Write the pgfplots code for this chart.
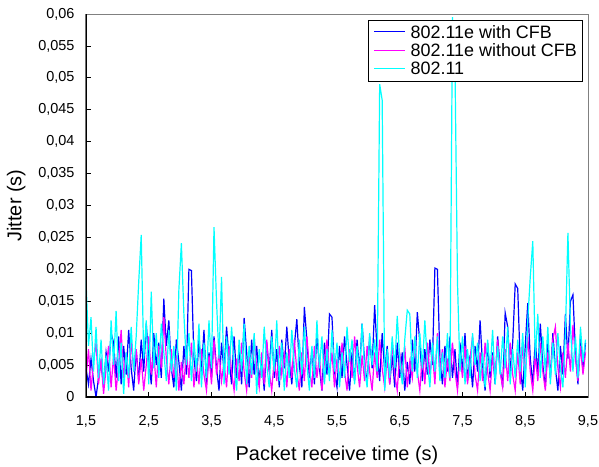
\documentclass[border=0pt]{standalone}
\usepackage{fontspec}
\setmainfont{Liberation Sans}
\usepackage{pgfplots}
\usepackage{pgfplotstable}
\pgfplotsset{compat=1.18}
\pgfplotstableread{
t b m c
1.50 0.0045 0.0030 0.0183
1.54 0.0020 0.0075 0.0080
1.58 0.0060 0.0010 0.0125
1.62 0.0025 0.0055 0.0040
1.66 0.0000 0.0085 0.0110
1.70 0.0030 0.0020 0.0030
1.74 0.0055 0.0060 0.0090
1.78 0.0015 0.0005 0.0020
1.82 0.0070 0.0045 0.0065
1.86 0.0040 0.0080 0.0010
1.90 0.0100 0.0015 0.0120
1.94 0.0085 0.0065 0.0050
1.98 0.0030 0.0010 0.0135
2.02 0.0095 0.0050 0.0025
2.06 0.0020 0.0105 0.0085
2.10 0.0080 0.0030 0.0005
2.14 0.0035 0.0070 0.0070
2.18 0.0105 0.0015 0.0030
2.22 0.0045 0.0090 0.0110
2.26 0.0010 0.0040 0.0040
2.30 0.0075 0.0075 0.0095
2.34 0.0025 0.0020 0.0180
2.38 0.0090 0.0060 0.0254
2.42 0.0040 0.0010 0.0060
2.46 0.0115 0.0050 0.0120
2.50 0.0060 0.0095 0.0020
2.54 0.0020 0.0035 0.0165
2.58 0.0100 0.0070 0.0045
2.62 0.0050 0.0015 0.0100
2.66 0.0085 0.0080 0.0030
2.70 0.0030 0.0045 0.0115
2.74 0.0154 0.0125 0.0070
2.78 0.0080 0.0060 0.0025
2.82 0.0120 0.0020 0.0105
2.86 0.0045 0.0075 0.0040
2.90 0.0015 0.0030 0.0080
2.94 0.0090 0.0065 0.0010
2.98 0.0055 0.0010 0.0168
3.02 0.0010 0.0055 0.0241
3.06 0.0080 0.0020 0.0130
3.10 0.0035 0.0070 0.0050
3.14 0.0200 0.0030 0.0100
3.18 0.0198 0.0085 0.0025
3.22 0.0060 0.0015 0.0090
3.26 0.0025 0.0060 0.0040
3.30 0.0090 0.0020 0.0115
3.34 0.0040 0.0075 0.0015
3.38 0.0105 0.0035 0.0085
3.42 0.0020 0.0010 0.0030
3.46 0.0070 0.0065 0.0120
3.50 0.0030 0.0020 0.0045
3.54 0.0095 0.0090 0.0266
3.58 0.0045 0.0035 0.0150
3.62 0.0010 0.0070 0.0060
3.66 0.0085 0.0025 0.0188
3.70 0.0040 0.0055 0.0020
3.74 0.0110 0.0015 0.0095
3.78 0.0060 0.0080 0.0035
3.82 0.0020 0.0040 0.0110
3.86 0.0095 0.0010 0.0050
3.90 0.0030 0.0060 0.0010
3.94 0.0075 0.0025 0.0090
3.98 0.0020 0.0085 0.0040
4.02 0.0124 0.0040 0.0115
4.06 0.0070 0.0010 0.0020
4.10 0.0015 0.0065 0.0080
4.14 0.0090 0.0030 0.0035
4.18 0.0035 0.0095 0.0100
4.22 0.0080 0.0045 0.0005
4.26 0.0025 0.0015 0.0075
4.30 0.0060 0.0070 0.0030
4.34 0.0010 0.0020 0.0110
4.38 0.0085 0.0090 0.0050
4.42 0.0040 0.0040 0.0015
4.46 0.0105 0.0010 0.0095
4.50 0.0030 0.0060 0.0040
4.54 0.0075 0.0025 0.0120
4.58 0.0015 0.0080 0.0025
4.62 0.0090 0.0035 0.0085
4.66 0.0045 0.0065 0.0010
4.70 0.0110 0.0015 0.0070
4.74 0.0055 0.0075 0.0030
4.78 0.0020 0.0030 0.0105
4.82 0.0080 0.0090 0.0045
4.86 0.0122 0.0040 0.0015
4.90 0.0050 0.0010 0.0090
4.94 0.0015 0.0070 0.0035
4.98 0.0141 0.0025 0.0110
5.02 0.0090 0.0095 0.0050
5.06 0.0030 0.0045 0.0010
5.10 0.0075 0.0015 0.0080
5.14 0.0020 0.0080 0.0030
5.18 0.0100 0.0030 0.0120
5.22 0.0045 0.0065 0.0045
5.26 0.0010 0.0010 0.0095
5.30 0.0085 0.0055 0.0020
5.34 0.0035 0.0090 0.0075
5.38 0.0130 0.0035 0.0025
5.42 0.0125 0.0070 0.0105
5.46 0.0040 0.0015 0.0040
5.50 0.0015 0.0060 0.0085
5.54 0.0080 0.0025 0.0015
5.58 0.0030 0.0085 0.0070
5.62 0.0095 0.0040 0.0030
5.66 0.0050 0.0010 0.0110
5.70 0.0010 0.0075 0.0055
5.74 0.0070 0.0030 0.0090
5.78 0.0025 0.0095 0.0020
5.82 0.0090 0.0050 0.0080
5.86 0.0040 0.0015 0.0035
5.90 0.0115 0.0065 0.0115
5.94 0.0055 0.0025 0.0045
5.98 0.0020 0.0080 0.0015
6.02 0.0095 0.0040 0.0100
6.06 0.0045 0.0010 0.0050
6.10 0.0144 0.0070 0.0090
6.14 0.0070 0.0030 0.0040
6.18 0.0025 0.0090 0.0490
6.22 0.0100 0.0045 0.0465
6.26 0.0040 0.0015 0.0010
6.30 0.0080 0.0060 0.0075
6.34 0.0020 0.0020 0.0030
6.38 0.0065 0.0085 0.0095
6.42 0.0015 0.0035 0.0045
6.46 0.0085 0.0010 0.0127
6.50 0.0030 0.0070 0.0060
6.54 0.0070 0.0025 0.0020
6.58 0.0010 0.0080 0.0090
6.62 0.0055 0.0015 0.0136
6.66 0.0020 0.0055 0.0130
6.70 0.0090 0.0030 0.0040
6.74 0.0040 0.0090 0.0095
6.78 0.0133 0.0040 0.0030
6.82 0.0085 0.0010 0.0100
6.86 0.0025 0.0065 0.0045
6.90 0.0075 0.0020 0.0120
6.94 0.0035 0.0085 0.0055
6.98 0.0090 0.0035 0.0015
7.02 0.0050 0.0070 0.0085
7.06 0.0202 0.0020 0.0040
7.10 0.0200 0.0100 0.0095
7.14 0.0060 0.0040 0.0025
7.18 0.0020 0.0075 0.0070
7.22 0.0080 0.0015 0.0030
7.26 0.0040 0.0060 0.0100
7.30 0.0095 0.0025 0.0030
7.34 0.0030 0.0085 0.0595
7.38 0.0075 0.0040 0.0520
7.42 0.0015 0.0010 0.0180
7.46 0.0085 0.0065 0.0040
7.50 0.0040 0.0030 0.0095
7.54 0.0100 0.0080 0.0020
7.58 0.0025 0.0020 0.0075
7.62 0.0065 0.0060 0.0030
7.66 0.0015 0.0095 0.0100
7.70 0.0080 0.0035 0.0050
7.74 0.0040 0.0010 0.0085
7.78 0.0120 0.0070 0.0025
7.82 0.0050 0.0025 0.0070
7.86 0.0010 0.0085 0.0015
7.90 0.0085 0.0040 0.0090
7.94 0.0030 0.0010 0.0040
7.98 0.0070 0.0065 0.0105
8.02 0.0020 0.0030 0.0020
8.06 0.0095 0.0090 0.0080
8.10 0.0045 0.0040 0.0035
8.14 0.0015 0.0015 0.0095
8.18 0.0132 0.0075 0.0045
8.22 0.0110 0.0025 0.0110
8.26 0.0040 0.0085 0.0020
8.30 0.0085 0.0035 0.0075
8.34 0.0177 0.0010 0.0030
8.38 0.0170 0.0070 0.0090
8.42 0.0050 0.0020 0.0040
8.46 0.0010 0.0080 0.0100
8.50 0.0080 0.0035 0.0015
8.54 0.0147 0.0095 0.0120
8.58 0.0060 0.0040 0.0188
8.62 0.0020 0.0010 0.0244
8.66 0.0090 0.0065 0.0060
8.70 0.0035 0.0025 0.0130
8.74 0.0115 0.0085 0.0030
8.78 0.0050 0.0040 0.0095
8.82 0.0015 0.0010 0.0040
8.86 0.0085 0.0070 0.0110
8.90 0.0030 0.0030 0.0020
8.94 0.0100 0.0090 0.0085
8.98 0.0045 0.0110 0.0035
9.02 0.0010 0.0045 0.0100
9.06 0.0080 0.0015 0.0045
9.10 0.0035 0.0070 0.0015
9.14 0.0130 0.0030 0.0100
9.18 0.0060 0.0085 0.0257
9.22 0.0150 0.0040 0.0110
9.26 0.0160 0.0113 0.0040
9.30 0.0070 0.0060 0.0095
9.34 0.0020 0.0025 0.0030
9.38 0.0095 0.0080 0.0110
9.42 0.0040 0.0035 0.0055
9.46 0.0085 0.0070 0.0090
}\data
\definecolor{cblue}{RGB}{0,0,255}
\definecolor{cmag}{RGB}{255,0,255}
\definecolor{ccyan}{RGB}{0,255,255}
\begin{document}
\begin{tikzpicture}
\begin{axis}[
  scale only axis,
  width=502bp, height=383bp,
  xmin=1.5, xmax=9.5, ymin=0, ymax=0.06,
  xtick={1.5,2.5,...,9.5},
  ytick={0,0.005,...,0.0601},
  scaled ticks=false,
  tick pos=left,
  tick align=inside,
  major tick length=5bp,
  tick style={black, line width=0.8bp},
  axis line style={draw=gray, line width=1bp},
  /pgf/number format/assume math mode=true,
  /pgf/number format/use comma,
  xticklabel style={/pgf/number format/fixed, /pgf/number format/precision=1, /pgf/number format/fixed zerofill, font=\fontsize{14.5}{14.5}\selectfont, yshift=-15bp},
  yticklabel style={/pgf/number format/fixed, /pgf/number format/precision=3, font=\fontsize{14.5}{14.5}\selectfont, xshift=-8bp},
  xlabel={Packet receive time (s)},
  ylabel={Jitter (s)},
  xlabel style={at={(axis description cs:0.5,0)}, anchor=center, yshift=-58bp, font=\fontsize{20}{20}\selectfont},
  ylabel style={at={(axis description cs:-0.139,0.5)}, anchor=center, font=\fontsize{20}{20}\selectfont},
  legend style={at={(1,1)}, anchor=north east, xshift=-6bp, yshift=-6bp, draw=black, font=\fontsize{18}{18}\selectfont, inner xsep=5bp, inner ysep=5bp, row sep=4bp, column sep=5bp, nodes={inner sep=0bp}, cells={anchor=base west}},
  legend image code/.code={\path (0bp,0bp); \draw[#1, line width=1.2bp] (0bp,6.3bp) -- (31bp,6.3bp);},
  every axis plot/.append style={line width=1.2bp},
]
\addplot[cblue] table[x=t, y=b] {\data};
\addlegendentry{802.11e with CFB}
\addplot[cmag] table[x=t, y=m] {\data};
\addlegendentry{802.11e without CFB}
\addplot[ccyan] table[x=t, y=c] {\data};
\addlegendentry{802.11}
\draw[black, line width=1.6bp] (rel axis cs:0,1) -- (rel axis cs:0,0) -- (rel axis cs:1,0);
\end{axis}
\pgfresetboundingbox
\path[use as bounding box] (-86bp,-70bp) rectangle (513bp,397bp);
\end{tikzpicture}
\end{document}
